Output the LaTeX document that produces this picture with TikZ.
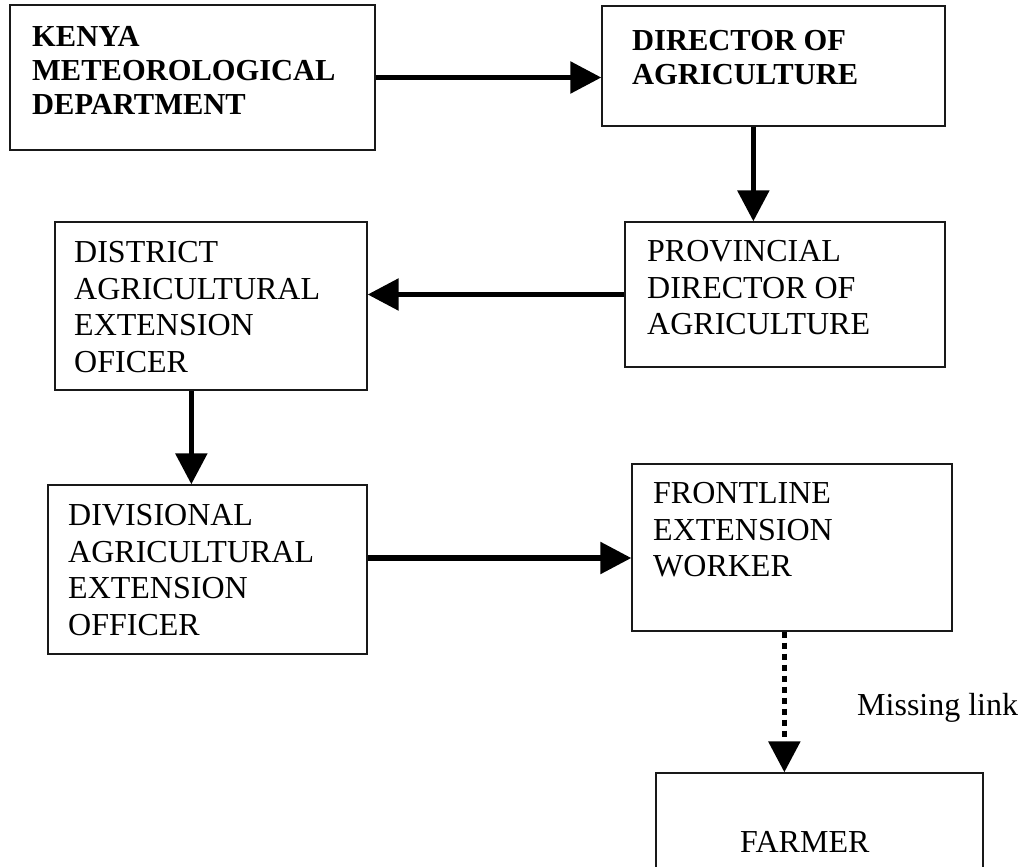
\documentclass[tikz,border=0pt]{standalone}
\usepackage{fontspec}
\setmainfont{Liberation Serif}
\usetikzlibrary{arrows.meta}
\tikzset{
  box/.style={draw=black!90, line width=1.3pt, inner sep=0pt, fill=none},
  txt/.style={anchor=north west, inner sep=0pt, align=left, font=\fontsize{32}{36.8}\selectfont},
  btxt/.style={anchor=north west, inner sep=0pt, align=left, font=\fontsize{30.5}{34}\selectfont\bfseries},
  arr/.style={line width=5.5pt, -{Triangle[length=31pt,width=31pt]}},
  dotarr/.style={arr, dash pattern=on 6pt off 5pt},
}
\begin{document}
\begin{tikzpicture}[x=1pt, y=-1pt]
\clip (0,0) rectangle (1023,867);
\fill[white] (0,0) rectangle (1023,867);
% boxes
\node[box, minimum width=365pt, minimum height=145pt] (b1) at (192.5,77.5) {};
\node[box, minimum width=343pt, minimum height=120pt] (b2) at (773.5,66) {};
\node[box, minimum width=320pt, minimum height=145pt] (b3) at (785,294.5) {};
\node[box, minimum width=312pt, minimum height=168pt] (b4) at (211,306) {};
\node[box, minimum width=319pt, minimum height=169pt] (b5) at (207.5,569.5) {};
\node[box, minimum width=320pt, minimum height=167pt] (b6) at (792,547.5) {};
\node[box, minimum width=327pt, minimum height=127pt] (b7) at (819.5,836.5) {};
% texts
\node[btxt] (t1) at (32,26) {KENYA\\METEOROLOGICAL\\DEPARTMENT};
\node[btxt] (t2) at (632,30) {DIRECTOR OF\\AGRICULTURE};
\node[txt] (t3) at (647,240) {PROVINCIAL\\DIRECTOR OF\\AGRICULTURE};
\node[txt] (t4) at (74,241) {DISTRICT\\AGRICULTURAL\\EXTENSION\\OFICER};
\node[txt] (t5) at (68,504) {DIVISIONAL\\AGRICULTURAL\\EXTENSION\\OFFICER};
\node[txt] (t6) at (653,482) {FRONTLINE\\EXTENSION\\WORKER};
\node[anchor=west, inner sep=0pt, font=\fontsize{32}{36.8}\selectfont] (t7) at (740,842) {FARMER};
\node[anchor=base west, inner sep=0pt, font=\fontsize{32}{36.8}\selectfont] (ml) at (857,715) {Missing link};
% connectors
\draw[arr] (b1.east) -- (b1.east -| b2.west);
\draw[arr] ([xshift=152pt]b2.south west) -- ([xshift=152pt]b2.south west |- b3.north);
\draw[arr] (b3.west) -- (b3.west -| b4.east);
\draw[arr] ([xshift=137pt]b4.south west) -- ([xshift=137pt]b4.south west |- b5.north);
\draw[arr] ([yshift=11.5pt]b5.east) -- ([yshift=11.5pt]b5.east -| b6.west);
\draw[dotarr] ([xshift=153pt]b6.south west) -- ([xshift=153pt]b6.south west |- b7.north);
\end{tikzpicture}
\end{document}
